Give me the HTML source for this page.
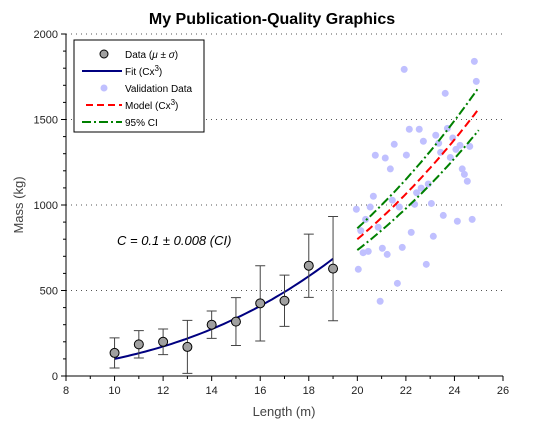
<!DOCTYPE html>
<html><head><meta charset="utf-8"><style>
body{margin:0;background:#fff}
svg{font-family:"Liberation Sans",sans-serif}
</style></head><body>
<svg id="chart" width="560" height="425" xmlns="http://www.w3.org/2000/svg"></svg>
<script>
const xTicks=[8,10,12,14,16,18,20,22,24,26];
const yTicks=[0,500,1000,1500,2000];
const dataX=[10,11,12,13,14,15,16,17,18,19];
const dataMean=[135,185,200,170,300,318,425,440,645,628];
const dataSd=[88,80,75,155,80,140,220,150,185,305];
const valX=[24.82,24.90,21.93,23.62,22.14,22.55,22.72,23.23,23.71,23.35,23.93,21.52,20.74,21.15,22.02,23.43,24.23,24.06,24.63,23.83,21.36,24.32,24.41,24.53,22.92,22.63,22.44,20.66,21.44,19.96,20.53,21.73,22.36,23.05,20.34,23.54,24.12,24.73,20.14,20.86,22.22,23.13,21.03,21.85,20.24,20.45,21.23,20.04,22.84,21.65,20.94];
const valY=[1840,1723,1793,1653,1443,1443,1373,1408,1448,1361,1392,1355,1291,1275,1292,1308,1349,1325,1343,1278,1211,1211,1179,1139,1123,1099,1072,1051,1028,975,988,988,1004,1009,916,939,905,916,850,870,840,817,747,752,721,729,711,624,653,542,437];
const fitC=[0.1];
const ciC=[0.092,0.108];
const NS="http://www.w3.org/2000/svg";
const svg=document.getElementById('chart');
const X0=66,X1=503,Y0=376,Y1=34;
const sx=v=>X0+(v-8)/(26-8)*(X1-X0);
const sy=v=>Y0-(v-0)/2000*(Y0-Y1);
function mk(t,a,parent){const e=document.createElementNS(NS,t);for(const k in a)e.setAttribute(k,a[k]);(parent||svg).appendChild(e);return e;}
// grid
yTicks.forEach(t=>{if(t>0){const g=mk('line',{x1:X0,x2:X1,y1:sy(t),y2:sy(t),stroke:'#555','stroke-dasharray':'1,4'});

}});
// axes
const ax=mk('path',{d:`M${X0},${Y1}V${Y0}H${X1}`,fill:'none',stroke:'#000'});


xTicks.forEach(t=>{mk('line',{x1:sx(t),x2:sx(t),y1:Y0,y2:Y0+5,stroke:'#000'});
if(t<26)mk('line',{x1:sx(t+1),x2:sx(t+1),y1:Y0,y2:Y0+3,stroke:'#000'});
const l=mk('text',{x:sx(t),y:Y0+18,'text-anchor':'middle','font-size':11,fill:'#222'});l.textContent=t;

});
yTicks.forEach(t=>{mk('line',{x1:X0-5,x2:X0,y1:sy(t),y2:sy(t),stroke:'#000'});
if(t<2000)for(let k=1;k<5;k++)mk('line',{x1:X0-3,x2:X0,y1:sy(t+k*100),y2:sy(t+k*100),stroke:'#000'});
const l=mk('text',{x:X0-8,y:sy(t)+4,'text-anchor':'end','font-size':11,fill:'#222'});l.textContent=t;

});
// validation
valX.forEach((x,i)=>{const c=mk('circle',{cx:sx(x),cy:sy(valY[i]),r:3.5,fill:'#c0c0ff'});

});
function curve(c,a,b){let d='';for(let i=0;i<=50;i++){const x=a+(b-a)*i/50;d+=(i?'L':'M')+sx(x).toFixed(1)+','+sy(c*x*x*x).toFixed(1);}return d;}
ciC.forEach(c=>{const p=mk('path',{d:curve(c,20,25),fill:'none',stroke:'#008000','stroke-width':2,'stroke-dasharray':'9,3,2,3'});

});
const m=mk('path',{d:curve(fitC[0],20,25),fill:'none',stroke:'#f00','stroke-width':2,'stroke-dasharray':'8,4'});


const f=mk('path',{d:curve(fitC[0],10,19),fill:'none',stroke:'#000080','stroke-width':2});


dataX.forEach((x,i)=>{const px=sx(x),lo=sy(dataMean[i]-dataSd[i]),hi=sy(dataMean[i]+dataSd[i]);
const e=mk('path',{d:`M${px},${lo}V${hi}M${px-5},${lo}H${px+5}M${px-5},${hi}H${px+5}`,stroke:'#444',fill:'none'});


const c=mk('circle',{cx:px,cy:sy(dataMean[i]),r:4.5,fill:'#a0a0a0',stroke:'#000'});

});
</script>
<svg style="position:absolute;left:0;top:0" width="560" height="425">
<text x="272" y="24" text-anchor="middle" font-size="16" font-weight="bold">My Publication-Quality Graphics</text>
<text x="284" y="416" text-anchor="middle" font-size="13" fill="#444">Length (m)</text>
<text transform="translate(23,205) rotate(-90)" text-anchor="middle" font-size="13" fill="#444">Mass (kg)</text>
<text x="117" y="245" font-size="13" font-style="italic">C = 0.1 ± 0.008 (CI)</text>
<g font-size="10">
<rect x="74" y="40" width="130" height="92" fill="#fff" stroke="#000"/>
<circle cx="104" cy="54" r="4" fill="#a0a0a0" stroke="#000"/>
<text x="125" y="58">Data (<tspan font-style="italic">μ</tspan> ± <tspan font-style="italic">σ</tspan>)</text>
<line x1="82" x2="122" y1="71" y2="71" stroke="#000080" stroke-width="2"/>
<text x="125" y="75">Fit (Cx<tspan dy="-4" font-size="8">3</tspan><tspan dy="4">)</tspan></text>
<circle cx="104" cy="88" r="3.5" fill="#c0c0ff"/>
<text x="125" y="92">Validation Data</text>
<line x1="86" x2="122" y1="105" y2="105" stroke="#f00" stroke-width="2" stroke-dasharray="7,4"/>
<text x="125" y="109">Model (Cx<tspan dy="-4" font-size="8">3</tspan><tspan dy="4">)</tspan></text>
<line x1="82" x2="122" y1="122" y2="122" stroke="#008000" stroke-width="2" stroke-dasharray="9,3,2,3"/>
<text x="125" y="126">95% CI</text>
</g>
</svg>
</body></html>
